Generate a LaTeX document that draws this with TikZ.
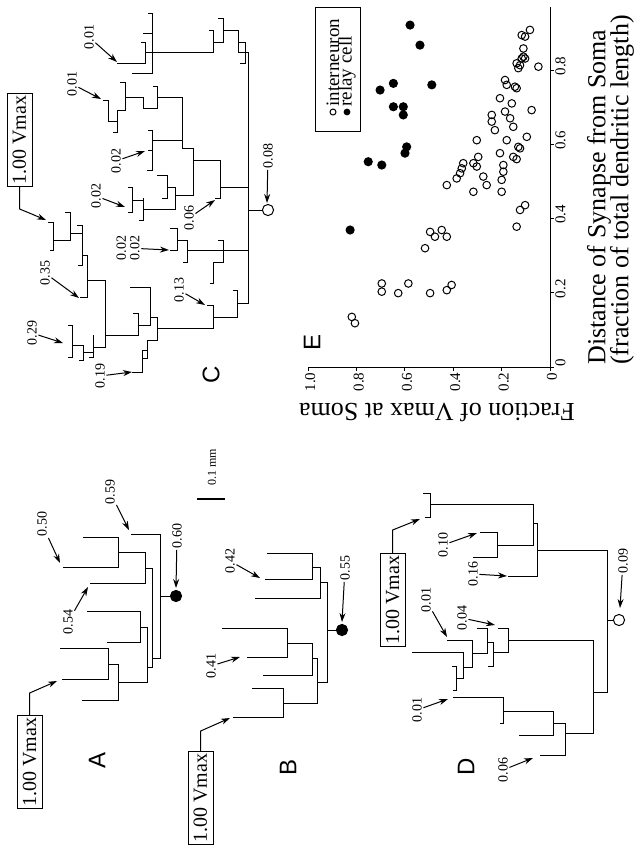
\documentclass[tikz,border=0pt]{standalone}
\usepackage{fontspec}
\setmainfont{Liberation Serif}
\setsansfont{Liberation Sans}
\usetikzlibrary{arrows.meta}
\begin{document}
\begin{tikzpicture}[x=0.5pt, y=-0.5pt, line width=0.5pt,
    val/.style={rotate=90, inner sep=0.6pt, font=\fontsize{7}{6.8}\selectfont},
    vmax/.style={draw, rotate=90, inner sep=1pt, minimum width=45pt, minimum height=12.5pt,
                 font=\fontsize{10}{10}\selectfont},
    panel/.style={rotate=90, inner sep=0pt, font=\sffamily\fontsize{12}{12}\selectfont},
    ticklbl/.style={rotate=90, inner sep=0.5pt, font=\fontsize{7.5}{7.5}\selectfont},
    axtitle/.style={inner sep=0pt, font=\fontsize{13}{13}\selectfont},
    keytext/.style={rotate=90, anchor=west, inner sep=0pt, font=\fontsize{9.5}{9.5}\selectfont},
    ptr/.style={-{Stealth[length=4.5pt, width=3pt]}},
    somafull/.style={circle, fill, draw, inner sep=0pt, minimum size=5.6pt},
    somaopen/.style={circle, draw, fill=white, inner sep=0pt, minimum size=5.6pt}]

    \useasboundingbox (0,0) rectangle (643,848);

    % panel A
    \draw (131,534) -- (160,534) -- (160,658) -- (152,658)
          (83,537) -- (118,537) -- (118,567) -- (63,567)
          (118,552) -- (145,552) -- (145,583) -- (90,583)
          (145,568) -- (152,568) -- (152,667) -- (147,667)
          (87,611) -- (140,611) -- (140,642) -- (107,642)
          (140,627) -- (147,627) -- (147,682) -- (118,682)
          (60,648) -- (108,648) -- (108,679) -- (62,679)
          (108,664) -- (118,664) -- (118,700) -- (82,700);
    \node[somafull] (somaA) at (176,596) {};
    \draw (160,596) -- (somaA);

    \node[val] (a59) at (110,492) {0.59};
    \node[val] (a50) at (42,524) {0.50};
    \node[val] (a54) at (68,622) {0.54};
    \node[val] (a60) at (177,536) {0.60};
    \node[vmax] (vmaxA) at (29.5,762) {1.00 Vmax};
    \node[panel] (labA) at (97,760) {A};
    \coordinate (a59t) at (129,530);
    \coordinate (a50t) at (60,563);
    \coordinate (a54t) at (88,587);
    \coordinate (a60t) at (176,588);
    \coordinate (aVt) at (57,681);
    \draw[ptr] (a59) -- (a59t);
    \draw[ptr] (a50) -- (a50t);
    \draw[ptr] (a54) -- (a54t);
    \draw[ptr] (a60) -- (a60t);
    \draw[ptr] (vmaxA.east) -- ++(0,-22) -- (aVt);

    \node[rotate=90, inner sep=0.5pt, font=\fontsize{6}{6}\selectfont] (scl) at (212,467) {0.1 mm};
    \draw[line width=1.2pt] (197,499) -- (225,499);

    % panel B
    \draw (267,553) -- (312,553) -- (312,579) -- (265,579)
          (312,567) -- (320,567) -- (320,598) -- (255,598)
          (320,582) -- (327,582) -- (327,682) -- (317,682)
          (222,628) -- (287,628) -- (287,657) -- (247,657)
          (287,643) -- (312,643) -- (312,675) -- (263,675)
          (312,658) -- (317,658) -- (317,703) -- (283,703)
          (252,688) -- (283,688) -- (283,717) -- (233,717);
    \node[somafull] (somaB) at (342,630) {};
    \draw (327,630) -- (somaB);

    \node[val] (b42) at (230,561) {0.42};
    \node[val] (b41) at (211,666) {0.41};
    \node[val] (b55) at (345,568) {0.55};
    \node[vmax] (vmaxB) at (200.5,798) {1.00 Vmax};
    \node[panel] (labB) at (288,767) {B};
    \coordinate (b42t) at (260,578);
    \coordinate (b41t) at (240,657);
    \coordinate (b55t) at (342,622);
    \coordinate (bVt) at (230,718);
    \draw[ptr] (b42) -- (b42t);
    \draw[ptr] (b41) -- (b41t);
    \draw[ptr] (b55) -- (b55t);
    \draw[ptr] (vmaxB.east) -- ++(0,-20) -- (bVt);

    % panel C
    \draw (238,30) -- (238,52) -- (248,52) -- (248,303) -- (237,303)
          (223,30) -- (238,30)
          (218,18) -- (223,18) -- (223,42) -- (213,42)
          (209,30) -- (213,30) -- (213,52) -- (152,52)
          (238,42) -- (245,42) -- (245,63) -- (240,63)
          (148,13) -- (152,13) -- (152,73) -- (132,73)
          (143,33) -- (152,33)
          (141,42) -- (145,42) -- (145,63) -- (117,63)
          (145,52) -- (152,52)
          (220,187) -- (248,187)
          (193,160) -- (220,160) -- (220,198) -- (215,198)
          (182,148) -- (193,148) -- (193,195) -- (175,195)
          (157,97) -- (182,97) -- (182,148)
          (152,140) -- (182,140)
          (148,130) -- (152,130) -- (152,170) -- (147,170)
          (148,150) -- (152,150)
          (153,86) -- (157,86) -- (157,108) -- (143,108) -- (143,97) -- (125,97)
          (120,82) -- (125,82) -- (125,110) -- (117,110) -- (117,132) -- (113,132)
          (103,100) -- (108,100) -- (108,121) -- (117,121)
          (175,187) -- (175,209) -- (143,209)
          (167,187) -- (175,187)
          (157,175) -- (167,175) -- (167,198) -- (162,198)
          (143,198) -- (143,220) -- (139,220)
          (132,200) -- (143,200)
          (128,187) -- (132,187) -- (132,212) -- (128,212)
          (187,250) -- (248,250)
          (218,240) -- (223,240) -- (223,262) -- (213,262) -- (213,283) -- (210,283)
          (177,240) -- (187,240) -- (187,262) -- (183,262)
          (170,228) -- (177,228) -- (177,250) -- (170,250)
          (207,305) -- (213,305) -- (213,328) -- (157,328)
          (213,317) -- (237,317) -- (237,290) -- (233,290)
          (150,317) -- (157,317) -- (157,340) -- (147,340) -- (147,358) -- (143,358)
          (147,350) -- (142,350) -- (142,372) -- (132,372)
          (130,287) -- (150,287) -- (150,325) -- (138,325)
          (133,313) -- (138,313) -- (138,335) -- (105,335)
          (87,280) -- (105,280) -- (105,347) -- (93,347)
          (93,335) -- (93,357) -- (89,357)
          (83,352) -- (93,352)
          (72,345) -- (83,345) -- (83,360) -- (79,360)
          (68,325) -- (72,325) -- (72,357) -- (68,357)
          (80,297) -- (87,297) -- (87,255) -- (82,255)
          (77,225) -- (82,225) -- (82,265) -- (78,265)
          (70,233) -- (82,233)
          (65,212) -- (70,212) -- (70,240) -- (53,240)
          (48,222) -- (53,222) -- (53,250) -- (50,250);
    \node[somaopen] (somaC) at (268,210) {};
    \draw (248,210) -- (somaC);

    \node[val] (c01a) at (89,37) {0.01};
    \node[val] (c01b) at (72,84) {0.01};
    \node[val] (c02a) at (116,161) {0.02};
    \node[val] (c02b) at (96,196) {0.02};
    \node[val] (c06) at (189,218) {0.06};
    \node[val, align=center] (c02c) at (128,248) {0.02\\0.02};
    \node[val] (c13) at (179,290) {0.13};
    \node[val] (c35) at (45,273) {0.35};
    \node[val] (c29) at (32,333) {0.29};
    \node[val] (c19) at (100,376) {0.19};
    \node[val] (c08) at (268,156) {0.08};
    \node[vmax] (vmaxC) at (19.5,140) {1.00 Vmax};
    \node[panel] (labC) at (211,375) {C};
    \coordinate (c01at) at (117,62);
    \coordinate (c01bt) at (101,99);
    \coordinate (c02at) at (145,151);
    \coordinate (c02bt) at (125,207);
    \coordinate (c06t) at (215,200);
    \coordinate (c02ct) at (169,250);
    \coordinate (c13t) at (205,305);
    \coordinate (c35t) at (79,298);
    \coordinate (c29t) at (63,343);
    \coordinate (c19t) at (132,372);
    \coordinate (c08t) at (267,203);
    \coordinate (cVt) at (46,220);
    \draw[ptr] (c01a) -- (c01at);
    \draw[ptr] (c01b) -- (c01bt);
    \draw[ptr] (c02a) -- (c02at);
    \draw[ptr] (c02b) -- (c02bt);
    \draw[ptr] (c06) -- (c06t);
    \draw[ptr] (c02c) -- (c02ct);
    \draw[ptr] (c13) -- (c13t);
    \draw[ptr] (c35) -- (c35t);
    \draw[ptr] (c29) -- (c29t);
    \draw[ptr] (c19) -- (c19t);
    \draw[ptr] (c08) -- (c08t);
    \draw[ptr] (vmaxC.west) -- ++(0,22) -- (cVt);

    % panel D
    \draw (423,493) -- (430,493) -- (430,517) -- (425,517)
          (430,504) -- (533,504) -- (533,545) -- (497,545)
          (533,523) -- (537,523) -- (537,576) -- (508,576)
          (480,532) -- (497,532) -- (497,557) -- (473,557)
          (537,550) -- (607,550) -- (607,692) -- (593,692)
          (508,640) -- (593,640) -- (593,733) -- (565,733)
          (498,628) -- (508,628) -- (508,652) -- (493,652)
          (487,642) -- (493,642) -- (493,666) -- (488,666)
          (477,628) -- (487,628) -- (487,653) -- (472,653)
          (447,640) -- (472,640) -- (472,667) -- (463,667)
          (412,652) -- (463,652) -- (463,678) -- (456,678)
          (452,666) -- (456,666) -- (456,690) -- (453,690)
          (453,697) -- (503,697) -- (503,723) -- (500,723)
          (503,711) -- (553,711) -- (553,735) -- (519,735)
          (553,723) -- (565,723) -- (565,755) -- (540,755);
    \node[somaopen] (somaD) at (619,620) {};
    \draw (607,620) -- (somaD);

    \node[val] (d10) at (443,545) {0.10};
    \node[val] (d16) at (473,574) {0.16};
    \node[val] (d09) at (623,561) {0.09};
    \node[val] (d01a) at (426,600) {0.01};
    \node[val] (d04) at (462,618) {0.04};
    \node[val] (d01b) at (417,710) {0.01};
    \node[val] (d06) at (503,770) {0.06};
    \node[vmax] (vmaxD) at (392.5,600) {1.00 Vmax};
    \node[panel] (labD) at (466,767) {D};
    \coordinate (d10t) at (477,533);
    \coordinate (d16t) at (507,576);
    \coordinate (d09t) at (620,608);
    \coordinate (d01at) at (447,637);
    \coordinate (d04t) at (495,625);
    \coordinate (d01bt) at (448,699);
    \coordinate (d06t) at (533,758);
    \coordinate (dVt) at (420,519);
    \draw[ptr] (d10) -- (d10t);
    \draw[ptr] (d16) -- (d16t);
    \draw[ptr] (d09) -- (d09t);
    \draw[ptr] (d01a) -- (d01at);
    \draw[ptr] (d04) -- (d04t);
    \draw[ptr] (d01b) -- (d01bt);
    \draw[ptr] (d06) -- (d06t);
    \draw[ptr] (vmaxD.east) -- ++(0,-23) -- (dVt);

    % panel E
    \draw (308,367) -- (550,367) -- (550,7);
    \foreach \f/\t in {0/0, 0.2/0.2, 0.4/0.4, 0.6/0.6, 0.8/0.8, 1/1.0}
        \draw ({550-241.7*\f},367) -- ++(0,4)
              node[ticklbl, anchor=east, at end, yshift=-1pt] {\t};
    \foreach \d/\t in {0/0, 0.2/0.2, 0.4/0.4, 0.6/0.6, 0.8/0.8}
        \draw (550,{367-371.25*\d}) -- ++(4,0)
              node[ticklbl, anchor=north, at end, xshift=2pt] {\t};

    \foreach \f/\d in {0.820/0.135, 0.807/0.118, 0.696/0.225, 0.696/0.203, 0.628/0.199,
        0.586/0.225, 0.496/0.199, 0.427/0.207, 0.407/0.221, 0.517/0.320, 0.496/0.364,
        0.476/0.351, 0.448/0.369, 0.427/0.351, 0.427/0.490, 0.386/0.508, 0.372/0.522,
        0.365/0.535, 0.359/0.549, 0.317/0.472, 0.317/0.549, 0.303/0.540, 0.297/0.566,
        0.276/0.513, 0.262/0.490, 0.303/0.611, 0.200/0.472, 0.200/0.504, 0.193/0.526,
        0.193/0.544, 0.207/0.576, 0.179/0.611, 0.138/0.378, 0.124/0.423, 0.103/0.436,
        0.152/0.566, 0.131/0.593, 0.124/0.589, 0.138/0.560, 0.186/0.688, 0.165/0.670,
        0.152/0.647, 0.241/0.661, 0.228/0.638, 0.241/0.679, 0.207/0.724, 0.186/0.773,
        0.179/0.760, 0.145/0.755, 0.138/0.751, 0.158/0.710, 0.124/0.813, 0.117/0.831,
        0.110/0.836, 0.103/0.831, 0.138/0.818, 0.131/0.805, 0.076/0.692, 0.096/0.620,
        0.048/0.809, 0.110/0.858, 0.103/0.890, 0.117/0.894, 0.083/0.908}
        \draw ({550-241.7*\f},{367-371.25*\d}) circle[radius=1.9pt];
    \foreach \f/\d in {0.827/0.369, 0.752/0.553, 0.696/0.544, 0.600/0.576, 0.593/0.593,
        0.607/0.679, 0.607/0.701, 0.648/0.701, 0.648/0.764, 0.703/0.746, 0.489/0.760,
        0.538/0.867, 0.579/0.921}
        \fill ({550-241.7*\f},{367-371.25*\d}) circle[radius=2.3pt];

    \draw (315,7) rectangle (360,131);
    \draw (333,112) circle[radius=1.5pt];
    \fill (347,112) circle[radius=1.7pt];
    \node[keytext] (keyint) at (333,107) {interneuron};
    \node[keytext] (keyrel) at (347,107) {relay cell};

    \node[panel] (labE) at (312,342) {E};
    \node[axtitle, rotate=180] (ytitle) at (437,412) {Fraction of Vmax at Soma};
    \node[axtitle, rotate=90] (xtitle) at (599,197) {Distance of Synapse from Soma};
    \node[axtitle, rotate=90] (xtitleb) at (622,190) {(fraction of total dendritic length)};
\end{tikzpicture}
\end{document}
